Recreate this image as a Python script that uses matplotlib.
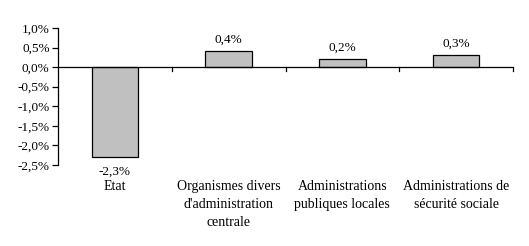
import matplotlib.pyplot as plt
from matplotlib.ticker import FuncFormatter

categories = ["Etat", "Organismes divers\nd'administration\ncentrale",
              "Administrations\npubliques locales", "Administrations de\nsécurité sociale"]
values = [-2.3, 0.4, 0.2, 0.3]
value_labels = ["-2,3%", "0,4%", "0,2%", "0,3%"]
y_ticks = [1.0, 0.5, 0.0, -0.5, -1.0, -1.5, -2.0, -2.5]

plt.rcParams['font.family'] = ['Liberation Serif', 'DejaVu Serif']
plt.rcParams['font.size'] = 9

W, H = 529, 246
fig = plt.figure(figsize=(W / 100, H / 100), dpi=100)
ax = fig.add_axes([58 / W, 1 - 165 / H, (513 - 58) / W, (165 - 28) / H])

x = list(range(len(categories)))
ax.bar(x, values, width=0.41, color='#C0C0C0', edgecolor='black', linewidth=0.9, zorder=2)

ax.set_xlim(-0.5, len(categories) - 0.5)
ax.set_ylim(-2.5, 1.0)
ax.set_yticks(y_ticks)
ax.yaxis.set_major_formatter(FuncFormatter(lambda v, p: ("%.1f%%" % v).replace('.', ',')))
ax.tick_params(axis='y', direction='out', length=4, width=0.9, pad=2, labelsize=9.5)

for s in ['top', 'right', 'bottom']:
    ax.spines[s].set_visible(False)
ax.spines['left'].set_linewidth(0.9)
ax.axhline(0, color='black', linewidth=0.9, zorder=3)

# category separators on the zero line
ax.set_xticks([])
for b in [0.5, 1.5, 2.5, 3.5]:
    ax.plot([b, b], [0, -0.1], color='black', linewidth=0.9, zorder=3, clip_on=False)

for xi, v, lab in zip(x, values, value_labels):
    if v >= 0:
        ax.annotate(lab, (xi, v), xytext=(0, 4), textcoords='offset points',
                    ha='center', va='bottom', fontsize=9.5)
    else:
        ax.annotate(lab, (xi, v), xytext=(0, -6), textcoords='offset points',
                    ha='center', va='top', fontsize=9.5)

for xi, cat in zip(x, categories):
    ax.text(xi, -0.11, cat, transform=ax.get_xaxis_transform(),
            ha='center', va='top', linespacing=1.5, fontsize=10)

fig.savefig("out.png", dpi=100)
